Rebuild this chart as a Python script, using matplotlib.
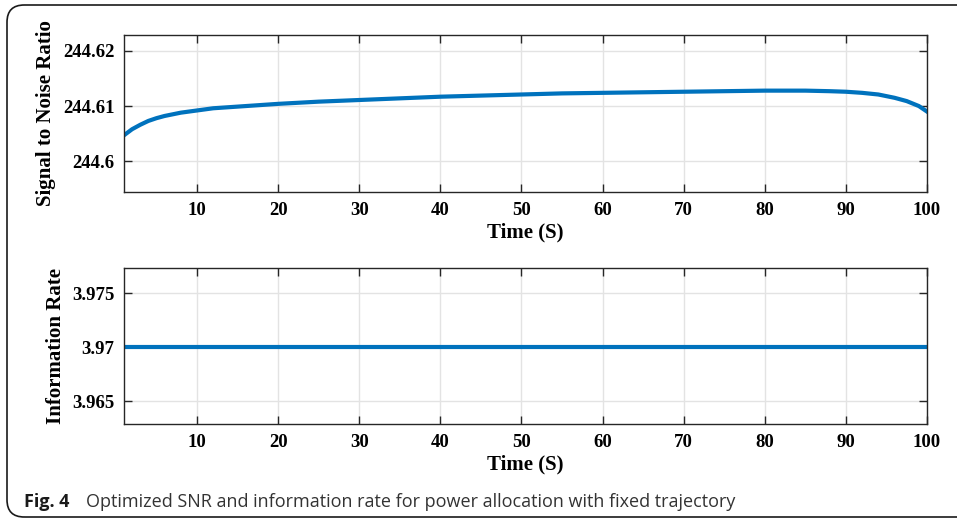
import numpy as np
import matplotlib
matplotlib.use('Agg')
import matplotlib.pyplot as plt
from matplotlib.patches import FancyBboxPatch

# SNR
snr_time = [1, 2, 3, 4, 5, 6, 8, 10, 12, 15, 20, 25, 30, 35, 40, 45, 50, 55,
            60, 65, 70, 75, 80, 85, 88, 90, 92, 94, 96, 97.5, 99, 100]
snr_vals = [244.6047, 244.6058, 244.6066, 244.6073, 244.6078, 244.6082,
            244.6088, 244.6092, 244.6096, 244.6099, 244.6104, 244.6108,
            244.6111, 244.6114, 244.6117, 244.6119, 244.6121, 244.6123,
            244.6124, 244.6125, 244.6126, 244.6127, 244.6128, 244.6128,
            244.6127, 244.6126, 244.6124, 244.6121, 244.6115, 244.6109,
            244.6100, 244.6090]

# information rate (flat)
rate_time = [1, 100]
rate_vals = [3.97, 3.97]

x_ticks = [10, 20, 30, 40, 50, 60, 70, 80, 90, 100]
snr_ticks = [244.6, 244.61, 244.62]
snr_tick_labels = ['244.6', '244.61', '244.62']
rate_ticks = [3.965, 3.97, 3.975]
rate_tick_labels = ['3.965', '3.97', '3.975']

caption_bold = 'Fig. 4'
caption_text = 'Optimized SNR and information rate for power allocation with fixed trajectory'

line_color = '#0072BD'
serif = 'Liberation Serif'

fig = plt.figure(figsize=(9.57, 5.2), dpi=100)
W, H = 957, 520

def px_axes(left, top, right, bottom):
    return fig.add_axes([left / W, 1 - bottom / H, (right - left) / W, (bottom - top) / H])

ax1 = px_axes(124, 35, 927, 192)
ax2 = px_axes(124, 268, 927, 424)


def style(ax):
    ax.set_xlim(1, 100)
    ax.set_xticks(x_ticks)
    ax.grid(True, color='#e3e3e3', linewidth=1.0)
    ax.set_axisbelow(True)
    ax.tick_params(direction='in', length=6, width=1, top=True, right=True,
                   color='#262626', pad=7)
    for s in ax.spines.values():
        s.set_color('#262626')
        s.set_linewidth(1.0)
    for lab in ax.get_xticklabels() + ax.get_yticklabels():
        lab.set_fontfamily(serif)
        lab.set_fontweight('bold')
        lab.set_fontsize(13.5)
    ax.set_xlabel('Time (S)', fontfamily=serif, fontweight='bold', fontsize=15, labelpad=3)


ax1.plot(snr_time, snr_vals, color=line_color, linewidth=3)
ax1.set_ylim(244.5944, 244.6229)
ax1.set_yticks(snr_ticks)
ax1.set_yticklabels(snr_tick_labels)
style(ax1)
ax1.set_ylabel('Signal to Noise Ratio', fontfamily=serif, fontweight='bold', fontsize=15, labelpad=5)

ax2.plot(rate_time, rate_vals, color=line_color, linewidth=3)
ax2.set_ylim(3.9629, 3.97734)
ax2.set_yticks(rate_ticks)
ax2.set_yticklabels(rate_tick_labels)
style(ax2)
ax2.set_ylabel('Information Rate', fontfamily=serif, fontweight='bold', fontsize=15, labelpad=4)

# frame around the figure (right side runs off the canvas)
frame = FancyBboxPatch((7 / W, 3 / H), 990 / W, 512 / H,
                       boxstyle='round,pad=0,rounding_size=0.018',
                       transform=fig.transFigure, fill=False,
                       edgecolor='#1a1a1a', linewidth=1.2, clip_on=False,
                       mutation_aspect=W / H)
fig.patches.append(frame)

fig.text(24 / W, 1 - 507 / H, caption_bold, fontfamily='Open Sans', fontweight='bold',
         fontsize=13, va='baseline', ha='left', color='#1a1a1a')
fig.text(86 / W, 1 - 507 / H, caption_text, fontfamily='Open Sans',
         fontsize=13, va='baseline', ha='left', color='#333333')

fig.savefig('out.png', dpi=100)
